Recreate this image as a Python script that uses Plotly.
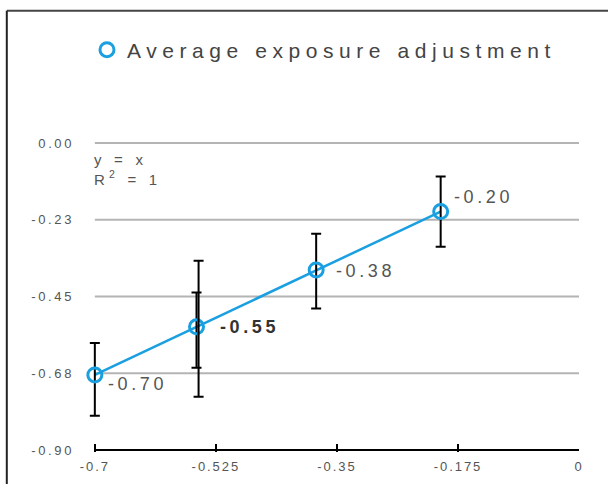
import plotly.graph_objects as go

# Measured exposure adjustments (x) and their fitted responses (y)
x_vals = [-0.70, -0.553, -0.38, -0.20]
y_vals = [-0.68, -0.539, -0.372, -0.201]
err_plus = [0.094, 0.101, 0.106, 0.103]
err_minus = [0.120, 0.120, 0.113, 0.103]

# Repeat measurement at -0.55 with its wider spread
rep_x = [-0.55]
rep_y = [-0.539]
rep_plus = [0.194]
rep_minus = [0.205]

x_ticks = [-0.7, -0.525, -0.35, -0.175, 0]
x_ticktext = ["-0.7", "-0.525", "-0.35", "-0.175", "0"]
y_ticks = [0, -0.225, -0.45, -0.675, -0.9]
y_ticktext = ["0.00", "-0.23", "-0.45", "-0.68", "-0.90"]

series_name = "Average exposure adjustment"
equation = "y = x<br>R<sup>2</sup> = 1"

BLUE = "#1a9fe0"
FONT = "Liberation Sans"
X_MIN, X_MAX = x_ticks[0], x_ticks[-1]

fig = go.Figure()

fig.add_trace(go.Scatter(
    x=x_vals, y=y_vals, mode="lines",
    line=dict(color=BLUE, width=2.5),
    showlegend=False, hoverinfo="skip", cliponaxis=False,
))

fig.add_trace(go.Scatter(
    x=x_vals, y=y_vals, mode="markers", name=series_name,
    marker=dict(symbol="circle-open", size=14, color=BLUE, line=dict(width=3, color=BLUE)),
    error_y=dict(type="data", symmetric=False, array=err_plus, arrayminus=err_minus,
                 color="black", thickness=2, width=5),
    cliponaxis=False,
))

fig.add_trace(go.Scatter(
    x=rep_x, y=rep_y, mode="markers",
    marker=dict(size=1, color="rgba(0,0,0,0)"),
    error_y=dict(type="data", symmetric=False, array=rep_plus, arrayminus=rep_minus,
                 color="black", thickness=2, width=5),
    showlegend=False, hoverinfo="skip", cliponaxis=False,
))

# Horizontal gridlines spanning the tick range, then the x baseline
for yv in y_ticks[:-1]:
    fig.add_shape(type="line", xref="x", yref="y", x0=X_MIN, x1=X_MAX, y0=yv, y1=yv,
                  line=dict(color="#b4b4b4", width=2), layer="below")
fig.add_shape(type="line", xref="x", yref="y", x0=X_MIN, x1=X_MAX, y0=y_ticks[-1], y1=y_ticks[-1],
              line=dict(color="black", width=2), layer="below")

# Value labels beside each point
label_shift = [(11, -9), (21, 0), (18, -1), (11, 15)]
for i, (xv, yv) in enumerate(zip(x_vals, y_vals)):
    dx, dy = label_shift[i]
    txt = f"{xv:.2f}"
    bold = i == 1
    fig.add_annotation(
        x=xv, y=yv, text=f"<b>{txt}</b>" if bold else txt, showarrow=False,
        xanchor="left", yanchor="middle", align="left", xshift=dx, yshift=dy,
        font=dict(family=FONT, size=18, color="#333333" if bold else "#555555"),
    )

fig.add_annotation(
    x=0.022, y=0.975, xref="paper", yref="paper", text=equation,
    showarrow=False, xanchor="left", yanchor="top", align="left",
    font=dict(family=FONT, size=15, color="#555555"),
)

# Outer frame (top and left edges)
fig.add_shape(type="line", xref="paper", yref="paper", x0=-0.149, x1=2, y0=1.4188, y1=1.4188,
              line=dict(color="#444444", width=2))
fig.add_shape(type="line", xref="paper", yref="paper", x0=-0.149, x1=-0.149, y0=1.4188, y1=-1,
              line=dict(color="#222222", width=2))

fig.update_layout(
    width=608, height=484,
    margin=dict(l=81, r=29, t=141, b=32, autoexpand=False),
    paper_bgcolor="white", plot_bgcolor="white",
    font=dict(family=FONT, color="#555555"),
    showlegend=True,
    legend=dict(orientation="h", x=0.012, xanchor="left", y=1.2926, yanchor="middle",
                font=dict(family=FONT, size=21, color="#444444"),
                bgcolor="rgba(0,0,0,0)", itemwidth=30,
                entrywidth=430, entrywidthmode="pixels"),
    xaxis=dict(range=[-0.72, X_MAX], tickvals=x_ticks, ticktext=x_ticktext,
               showline=False,
               ticks="inside", ticklen=8, tickwidth=2, tickcolor="black",
               showgrid=False, zeroline=False, ticklabelstandoff=5,
               tickfont=dict(family=FONT, size=13, color="#555555")),
    yaxis=dict(range=[-0.906, 0.006], tickvals=y_ticks, ticktext=y_ticktext,
               showgrid=False, showline=False, zeroline=False, ticks="",
               ticklabelstandoff=6,
               tickfont=dict(family=FONT, size=13, color="#555555")),
)

# Widen text tracking to the chart's airy typographic style
post = """
var gd = document.getElementById('{plot_id}');
function track() {
  var rules = [['.ytick text', '0.2em'], ['.xtick text', '0.15em'], ['.legendtext', '0.265em']];
  rules.forEach(function (r) {
    gd.querySelectorAll(r[0]).forEach(function (t) { t.style.letterSpacing = r[1]; });
  });
  gd.querySelectorAll('.annotation-text').forEach(function (t) {
    t.style.letterSpacing = t.textContent.indexOf('=') >= 0 ? '0.28em' : '0.2em';
  });
}
track();
gd.on('plotly_afterplot', track);
"""

fig.write_html("out.html", post_script=post)
